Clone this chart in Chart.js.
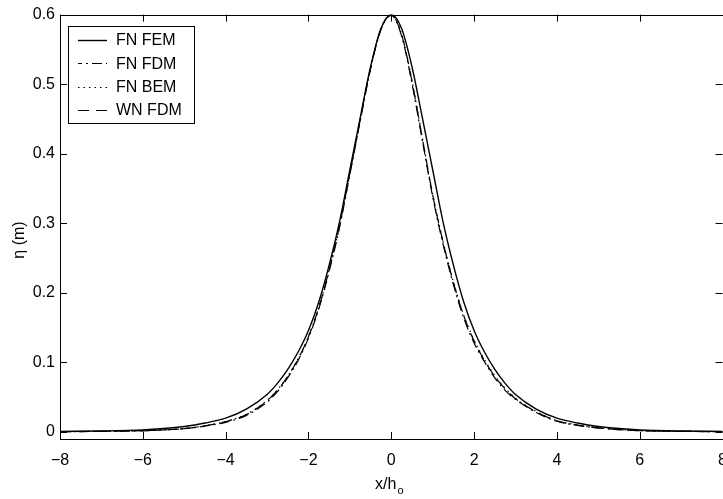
<!DOCTYPE html>
<html>
<head>
<meta charset="utf-8">
<script src="https://cdn.jsdelivr.net/npm/chart.js@4.4.0/dist/chart.umd.min.js"></script>
<style>
  html, body { margin: 0; padding: 0; background: #fff; overflow: hidden; }
  #wrap { width: 723px; height: 499px; overflow: hidden; }
  canvas { display: block; }
</style>
</head>
<body>
<div id="wrap"><canvas id="c" width="739" height="499" style="width:739px;height:499px"></canvas></div>
<script>
// ---- data ----
const xValues = [-8,-7,-6,-5.5,-5,-4.5,-4,-3.5,-3,-2.75,-2.5,-2.25,-2,-1.75,-1.5,-1.25,-1,-0.75,-0.5,-0.25,0,
                 0.25,0.5,0.75,1,1.25,1.5,1.75,2,2.25,2.5,2.75,3,3.5,4,4.5,5,5.5,6,7,8];
const fnFem = [0.001,0.0015,0.003,0.005,0.008,0.013,0.020,0.033,0.054,0.070,0.090,0.115,0.146,0.187,0.240,0.302,0.377,0.452,0.525,0.580,0.600,
               0.580,0.525,0.452,0.377,0.302,0.240,0.187,0.146,0.115,0.090,0.070,0.054,0.033,0.020,0.013,0.008,0.005,0.003,0.0015,0.001];
const fnFdm = [0.0005,0.001,0.0018,0.003,0.0048,0.0085,0.014,0.024,0.043,0.058,0.078,0.103,0.135,0.177,0.231,0.294,0.370,0.447,0.522,0.578,0.599,
               0.569,0.501,0.419,0.338,0.270,0.212,0.164,0.128,0.101,0.078,0.060,0.047,0.028,0.0155,0.0095,0.0058,0.0034,0.002,0.001,0.0005];
const fnBem = [0.0006,0.0011,0.0021,0.0032,0.0052,0.0092,0.0152,0.0255,0.0455,0.0605,0.0805,0.1055,0.1375,0.1795,0.2335,0.2965,0.3725,0.4495,0.5235,0.5795,0.5995,
               0.572,0.505,0.423,0.342,0.274,0.216,0.168,0.132,0.104,0.081,0.063,0.0485,0.0295,0.0165,0.0102,0.0062,0.0036,0.0021,0.0011,0.0006];
const wnFdm = [0.0005,0.001,0.002,0.003,0.005,0.009,0.015,0.025,0.045,0.060,0.080,0.105,0.137,0.179,0.233,0.296,0.372,0.449,0.523,0.579,0.599,
               0.571,0.504,0.422,0.341,0.273,0.215,0.167,0.131,0.103,0.080,0.062,0.048,0.029,0.016,0.010,0.006,0.0035,0.002,0.001,0.0005];
const seriesLabels = ['FN FEM','FN FDM','FN BEM','WN FDM'];
const xTicks = [-8,-6,-4,-2,0,2,4,6,8];
const xTickLabels = ['\u22128','\u22126','\u22124','\u22122','0','2','4','6','8'];
const yTicks = [0,0.1,0.2,0.3,0.4,0.5,0.6];
const yTickLabels = ['0','0.1','0.2','0.3','0.4','0.5','0.6'];
const xTitle = 'x/h';
const xTitleSub = 'o';
const yTitle = '\u03b7 (m)';

// ---- chart ----
const FONT = '"Liberation Sans", Arial, Helvetica, sans-serif';
const pts = arr => xValues.map((x, i) => ({x: x, y: arr[i]}));
const dashes = [[], [10,4,2,4], [1.5,4], [11,7]];
const widths = [1.4, 1.2, 1.2, 1.2];
const allSeries = [fnFem, fnFdm, fnBem, wnFdm];

const datasets = allSeries.map((s, i) => ({
  label: seriesLabels[i],
  data: pts(s),
  borderColor: '#000',
  backgroundColor: '#000',
  borderWidth: widths[i],
  borderDash: dashes[i],
  pointRadius: 0,
  fill: false,
  tension: 0.4,
  cubicInterpolationMode: 'monotone'
}));

const framePlugin = {
  id: 'frame',
  afterDraw(chart) {
    const ctx = chart.ctx;
    const a = chart.chartArea;
    const xs = chart.scales.x, ys = chart.scales.y;
    ctx.save();
    ctx.strokeStyle = '#000';
    ctx.lineWidth = 1;
    ctx.setLineDash([]);
    ctx.strokeRect(Math.round(a.left) + 0.5, Math.round(a.top) + 0.5, Math.round(a.right - a.left), Math.round(a.bottom - a.top));
    const TL = 7;
    ctx.beginPath();
    xTicks.forEach(v => {
      const px = Math.round(xs.getPixelForValue(v)) + 0.5;
      ctx.moveTo(px, a.bottom); ctx.lineTo(px, a.bottom - TL);
      ctx.moveTo(px, a.top); ctx.lineTo(px, a.top + TL);
    });
    yTicks.forEach(v => {
      const py = Math.round(ys.getPixelForValue(v)) + 0.5;
      ctx.moveTo(a.left, py); ctx.lineTo(a.left + TL, py);
      ctx.moveTo(a.right, py); ctx.lineTo(a.right - TL, py);
    });
    ctx.stroke();

    // legend
    const bx = 68, by = 26, bw = 126, bh = 97;
    ctx.fillStyle = '#fff';
    ctx.fillRect(bx, by, bw, bh);
    ctx.strokeRect(bx + 0.5, by + 0.5, bw, bh);
    ctx.font = '16px ' + FONT;
    ctx.textBaseline = 'middle';
    ctx.textAlign = 'left';
    chart.data.datasets.forEach((ds, i) => {
      const y = 40 + i * 23.3;
      ctx.strokeStyle = '#000';
      ctx.lineWidth = ds.borderWidth;
      ctx.setLineDash(ds.borderDash);
      ctx.lineDashOffset = i === 1 ? 6 : 0;
      ctx.beginPath();
      ctx.moveTo(78, Math.round(y) + 0.5);
      ctx.lineTo(107, Math.round(y) + 0.5);
      ctx.stroke();
      ctx.setLineDash([]);
      ctx.fillStyle = '#000';
      ctx.fillText(ds.label, 116, y + 1);
    });

    // axis titles
    ctx.fillStyle = '#000';
    ctx.font = '16px ' + FONT;
    const wMain = ctx.measureText(xTitle).width;
    ctx.font = '11px ' + FONT;
    const wSub = ctx.measureText(xTitleSub).width;
    const cx = (a.left + a.right) / 2 - 2;
    const startX = cx - (wMain + wSub + 1) / 2;
    ctx.font = '16px ' + FONT;
    ctx.textAlign = 'left';
    ctx.textBaseline = 'alphabetic';
    ctx.fillText(xTitle, startX, 489);
    ctx.font = '11px ' + FONT;
    ctx.fillText(xTitleSub, startX + wMain + 1, 494);

    ctx.translate(20, 240);
    ctx.rotate(-Math.PI / 2);
    ctx.font = '16px ' + FONT;
    ctx.textAlign = 'center';
    ctx.textBaseline = 'middle';
    ctx.fillText(yTitle, 0, 0);
    ctx.restore();
  }
};

new Chart(document.getElementById('c'), {
  type: 'line',
  data: { datasets: datasets },
  options: {
    responsive: false,
    animation: false,
    layout: { padding: { left: 0, right: 0, top: 9, bottom: 0 } },
    plugins: { legend: { display: false }, tooltip: { enabled: false } },
    scales: {
      x: {
        type: 'linear',
        min: -8, max: 8,
        afterBuildTicks: s => { s.ticks = xTicks.map(v => ({value: v})); },
        afterFit: s => { s.height = 60; },
        grid: { display: false, drawTicks: false },
        border: { display: false },
        ticks: {
          padding: 12,
          color: '#000',
          font: { size: 16, family: FONT },
          maxRotation: 0,
          callback: (v) => { const i = xTicks.indexOf(v); return i >= 0 ? xTickLabels[i] : ''; }
        }
      },
      y: {
        type: 'linear',
        min: -0.01, max: 0.6,
        afterBuildTicks: s => { s.ticks = yTicks.map(v => ({value: v})); },
        afterFit: s => { s.width = 60; },
        grid: { display: false, drawTicks: false },
        border: { display: false },
        ticks: {
          padding: 5,
          color: '#000',
          font: { size: 16, family: FONT },
          callback: (v) => { const i = yTicks.findIndex(t => Math.abs(t - v) < 1e-9); return i >= 0 ? yTickLabels[i] : ''; }
        }
      }
    }
  },
  plugins: [framePlugin]
});
</script>
</body>
</html>
